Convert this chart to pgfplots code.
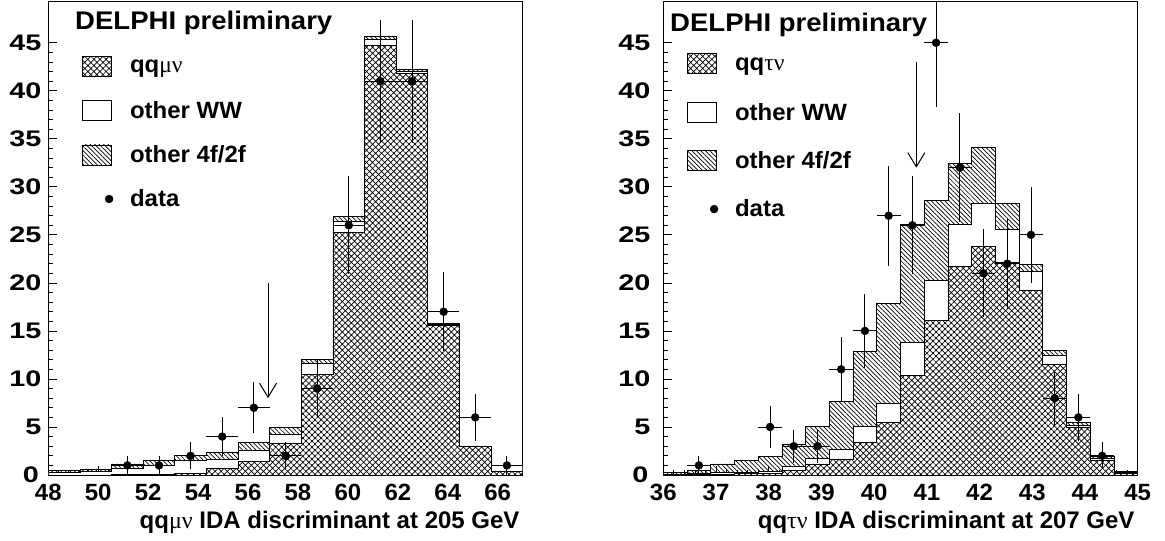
\documentclass[border=0pt]{standalone}
\usepackage{fontspec}
\usepackage{pgfplots}
\usepackage{pgfplotstable}
\pgfplotsset{compat=1.18}
\usetikzlibrary{patterns.meta,arrows.meta}
\setmainfont{Liberation Sans}
\newfontfamily\delfont{Liberation Sans}[FakeStretch=1.08]
\newfontfamily\legfont{Liberation Sans}[FakeStretch=1.02]
\newfontfamily\xtfont{Liberation Sans}[FakeStretch=1.02]
\newfontfamily\ytfont{Liberation Sans}[FakeStretch=1.28]
\newfontfamily\xlfont{Liberation Sans}
\newfontfamily\grk{Liberation Serif}
\newcommand\lstrut{\rule[-5bp]{0pt}{20bp}}

% bin left edges; last row repeats the last bin
\pgfplotstableread{
x qq ww tot
48 0.0 0.3 0.45
49.2667 0.0 0.35 0.55
50.5333 0.05 0.7 1.15
51.8 0.1 1.05 1.55
53.0667 0.15 1.5 2.0
54.3333 0.7 1.65 2.35
55.6 1.45 2.6 3.35
56.8667 3.3 4.25 4.95
58.1333 10.5 11.6 12.0
59.4 25.3 26.4 26.9
60.6667 44.75 45.33 45.7
61.9333 41.85 42.0 42.2
63.2 15.6 15.7 15.75
64.4667 2.95 3.0 3.02
65.7333 0.35 0.95 1.0
67 0.35 0.95 1.0
}\histL
\pgfplotstableread{
x y ex ey
51.1667 1 0.6333 1
52.4333 1 0.6333 1
53.7 2 0.6333 1.414
54.9667 4 0.6333 2
56.2333 7 0.6333 2.646
57.5 2 0.6333 1.414
58.7667 9 0.6333 3
60.0333 26 0.6333 5.099
61.3 41 0.6333 6.403
62.5667 41 0.6333 6.403
63.8333 17 0.6333 4.123
65.1 6 0.6333 2.449
66.3667 1 0.6333 1
}\dataL
\pgfplotstableread{
x qq ww tot
36 0.0 0.1 0.25
36.45 0.05 0.15 0.45
36.9 0.1 0.3 1.15
37.35 0.15 0.3 1.55
37.8 0.2 0.35 1.9
38.25 0.5 0.9 3.2
38.7 1.15 1.7 5.1
39.15 1.6 2.7 7.7
39.6 3.4 5.1 12.85
40.05 5.45 7.5 17.9
40.5 10.4 13.8 26.1
40.95 16.1 20.3 28.6
41.4 21.7 26.1 32.4
41.85 23.8 28.3 34.1
42.3 22.1 25.6 28.3
42.75 19.2 21.2 21.9
43.2 11.5 12.5 12.95
43.65 5.0 5.2 5.45
44.1 1.5 1.7 1.9
44.55 0.2 0.25 0.35
45 0.2 0.25 0.35
}\histR
\pgfplotstableread{
x y ex ey
36.675 1 0.225 1
38.025 5 0.225 2.236
38.475 3 0.225 1.732
38.925 3 0.225 1.732
39.375 11 0.225 3.317
39.825 15 0.225 3.873
40.275 27 0.225 5.196
40.725 26 0.225 5.099
41.175 45 0.225 6.708
41.625 32 0.225 5.657
42.075 21 0.225 4.583
42.525 22 0.225 4.690
42.975 25 0.225 5
43.425 8 0.225 2.828
43.875 6 0.225 2.449
44.325 2 0.225 1.414
}\dataR

\tikzset{
  qqpat/.style={pattern={Hatch[angle=45,distance=4.3pt,line width=0.7pt]}},
  fourf/.style={pattern={Lines[angle=-45,distance=3.2pt,line width=0.7pt]}},
}
\pgfplotsset{
  delphi/.style={
    scale only axis, width=474.4bp, height=473.5bp,
    anchor=south west,
    ymin=0, ymax=49.3,
    ytick={0,5,...,45}, minor y tick num=4, minor x tick num=4,
    tick align=inside, xtick pos=lower, ytick pos=left,
    major tick length=9bp, minor tick length=5bp,
    every tick/.style={black, line width=0.8bp},
    axis line style={line width=0.9bp},
    /pgf/number format/assume math mode=true,
    xticklabel style={font=\xtfont\bfseries\fontsize{23.5bp}{26bp}\selectfont, anchor=base, inner sep=0pt, yshift=-25.5bp},
    yticklabel style={font=\ytfont\bfseries\fontsize{22.5bp}{26bp}\selectfont, anchor=east, inner sep=0pt},
    xlabel style={at={(rel axis cs:1,0)}, anchor=base east, inner sep=0pt, yshift=-53bp, xshift=-3bp,
      font=\xlfont\bfseries\fontsize{24bp}{26bp}\selectfont},
    legend cell align=left,
    legend style={draw=none, fill=none, inner sep=0pt, outer sep=0pt,
      at={(axis description cs:0,1)}, anchor=north west,
      font=\legfont\bfseries\fontsize{23.5bp}{26bp}\selectfont,
      nodes={inner sep=0pt},
      /tikz/every odd column/.append style={column sep=17bp}},
  },
  histbox/.style={legend image code/.code={\draw[line width=0.8bp,black,#1] (0bp,-10bp) rectangle (29bp,10bp);}},
  dotimg/.style={legend image code/.code={\path[draw=none,fill=none] (0bp,-10bp) rectangle (29bp,10bp);
      \draw[only marks, mark=*, mark size=4pt, black] plot coordinates {(27bp,0bp)};}},
}

\begin{document}
\begin{tikzpicture}
\useasboundingbox (0,0) rectangle (1165bp,541bp);

% ---------- left: qq mu nu at 205 GeV
\begin{axis}[delphi, at={(48.3bp,66bp)},
  xmin=48, xmax=67, xtick={48,50,...,66},
  yticklabels={{0\kern2.5bp},5,10,15,20,25,30,35,40,45},
  yticklabel style={xshift=-6.6bp},
  xlabel={qq{\grk\mdseries μν} IDA discriminant at 205 GeV},
  legend style={xshift=33.4bp, yshift=-54.3bp, row sep=23.6bp}]
\addplot[const plot mark left, draw=black, line width=0.8bp, fourf, forget plot]
  table[x=x, y=tot] {\histL} \closedcycle;
\addplot[const plot mark left, draw=black, line width=0.8bp, fill=white, forget plot]
  table[x=x, y=ww] {\histL} \closedcycle;
\addplot[const plot mark left, draw=black, line width=0.8bp, qqpat, forget plot]
  table[x=x, y=qq] {\histL} \closedcycle;
\addplot[only marks, mark=*, mark size=4pt, black, forget plot,
  error bars/.cd, x dir=both, x explicit, y dir=both, y explicit,
  error mark=none, error bar style={line width=0.9bp, black}]
  table[x=x, y=y, x error=ex, y error=ey] {\dataL};
\addlegendimage{histbox=qqpat}
\addlegendentry{\lstrut qq{\grk\mdseries μν}}
\addlegendimage{histbox={fill=white}}
\addlegendentry{\lstrut other WW}
\addlegendimage{histbox=fourf}
\addlegendentry{\lstrut other 4f/2f}
\addlegendimage{dotimg}
\addlegendentry{\lstrut data}
\draw[line width=1bp, -{Straight Barb[length=14bp, width=17bp, line width=1bp]}]
  (axis cs:56.8,20) -- (axis cs:56.8,8);
\node[anchor=base west, inner sep=0pt, font=\delfont\bfseries\fontsize{25.5bp}{28bp}\selectfont]
  at (rel axis cs:0,1) [xshift=26.7bp, yshift=-28bp] {DELPHI preliminary};
\end{axis}

% ---------- right: qq tau nu at 207 GeV
\begin{axis}[delphi, at={(663.3bp,66bp)},
  xmin=36, xmax=45, xtick={36,...,45},
  yticklabels={{0\kern2bp},5,10,15,20,25,30,35,40,45},
  yticklabel style={xshift=-12.6bp},
  xlabel={qq{\grk\mdseries τν} IDA discriminant at 207 GeV},
  legend style={xshift=23.4bp, yshift=-51.8bp, row sep=27.8bp}]
\addplot[const plot mark left, draw=black, line width=0.8bp, fourf, forget plot]
  table[x=x, y=tot] {\histR} \closedcycle;
\addplot[const plot mark left, draw=black, line width=0.8bp, fill=white, forget plot]
  table[x=x, y=ww] {\histR} \closedcycle;
\addplot[const plot mark left, draw=black, line width=0.8bp, qqpat, forget plot]
  table[x=x, y=qq] {\histR} \closedcycle;
\addplot[only marks, mark=*, mark size=4pt, black, forget plot,
  error bars/.cd, x dir=both, x explicit, y dir=both, y explicit,
  error mark=none, error bar style={line width=0.9bp, black}]
  table[x=x, y=y, x error=ex, y error=ey] {\dataR};
\addlegendimage{histbox=qqpat}
\addlegendentry{\lstrut qq{\grk\mdseries τν}}
\addlegendimage{histbox={fill=white}}
\addlegendentry{\lstrut other WW}
\addlegendimage{histbox=fourf}
\addlegendentry{\lstrut other 4f/2f}
\addlegendimage{dotimg}
\addlegendentry{\lstrut data}
\draw[line width=1bp, -{Straight Barb[length=14bp, width=17bp, line width=1bp]}]
  (axis cs:40.8,43) -- (axis cs:40.8,32);
\node[anchor=base west, inner sep=0pt, font=\delfont\bfseries\fontsize{25.5bp}{28bp}\selectfont]
  at (rel axis cs:0,1) [xshift=6.7bp, yshift=-30bp] {DELPHI preliminary};
\end{axis}
\end{tikzpicture}
\end{document}
